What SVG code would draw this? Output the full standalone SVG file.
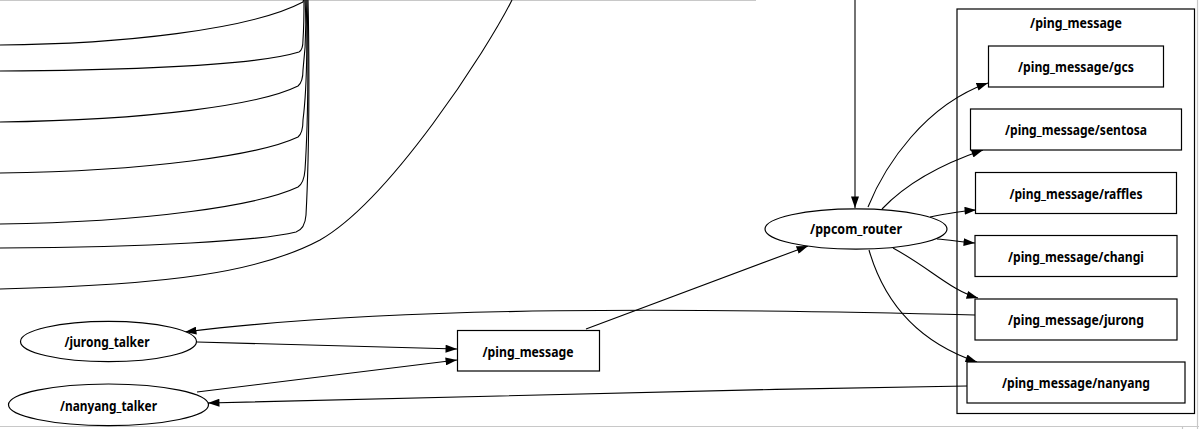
<svg xmlns="http://www.w3.org/2000/svg" width="1199" height="429" viewBox="0 0 1199 429">
<defs>
<style>
.node{fill:#fff;stroke:#000;stroke-width:1.2}
.cluster{fill:none;stroke:#000;stroke-width:1.2}
.edge{fill:none;stroke:#000;stroke-width:1.1}
.frame{fill:none;stroke:#c8c8c8;stroke-width:1.2}
text{font-family:"Noto Sans","DejaVu Sans",sans-serif;font-weight:700;font-size:14px;fill:#000;text-anchor:middle}
</style>
<marker id="ah" viewBox="0 0 10 7" markerUnits="userSpaceOnUse" markerWidth="12" markerHeight="8" refX="10" refY="3.5" orient="auto">
<path d="M0,0 L10,3.5 L0,7 z" fill="#000"/>
</marker>
</defs>
<rect width="1199" height="429" fill="#fff"/>
<g id="frame">
<line class="frame" x1="0" y1="0.5" x2="756" y2="0.5"/>
<line class="frame" x1="1197.5" y1="0" x2="1197.5" y2="429"/>
<line class="frame" x1="0" y1="426.5" x2="1199" y2="426.5"/>
<line class="frame" x1="1182.5" y1="426.5" x2="1182.5" y2="429"/>
</g>
<g id="cluster_ping_message">
<rect class="cluster" x="957" y="9" width="237.5" height="404.5"/>
<text x="1076" y="28" textLength="92" lengthAdjust="spacingAndGlyphs">/ping_message</text>
</g>
<g id="connectors">
<path class="edge" d="M0,45 C120,44 250,30 303,2 L303.5,0"/>
<path class="edge" d="M0,71 C150,70 260,64 299,52 Q303,50 303,40 C304,25 304,10 304,0"/>
<path class="edge" d="M0,122 C150,120 260,105 298,86 Q303,82 303,70 C306,45 306,15 305,0"/>
<path class="edge" d="M0,173 C150,171 260,155 298,137 Q303,133 303,120 C308,80 307,20 306,0"/>
<path class="edge" d="M0,224 C150,222 260,205 298,187 Q304,183 305,170 C309,110 308,30 307,0"/>
<path class="edge" d="M0,248 C150,247 260,241 296,232 Q305,229 306,215 C310,140 309,40 308,0"/>
<path class="edge" d="M0,289 C170,285 260,272 320,240 C390,200 487,50 512,0"/>
<path class="edge" marker-end="url(#ah)" d="M855,0 L855,208"/>
<path class="edge" marker-end="url(#ah)" d="M586,329 L808,246"/>
<path class="edge" marker-end="url(#ah)" d="M197,342 L457,349"/>
<path class="edge" marker-end="url(#ah)" d="M197,392 L457,360"/>
<path class="edge" marker-end="url(#ah)" d="M975,315 C700,308 400,305 185,332"/>
<path class="edge" marker-end="url(#ah)" d="M967,386 C700,390 400,398 208,403"/>
<path class="edge" marker-end="url(#ah)" d="M868,207 C885,165 925,105 988,83"/>
<path class="edge" marker-end="url(#ah)" d="M882,209 C900,190 930,168 983,150"/>
<path class="edge" marker-end="url(#ah)" d="M930,217 C950,213 960,211 976,210"/>
<path class="edge" marker-end="url(#ah)" d="M937,239 C950,240 962,242 975,243"/>
<path class="edge" marker-end="url(#ah)" d="M893,248 C930,268 950,290 978,298"/>
<path class="edge" marker-end="url(#ah)" d="M869,250 C882,295 912,340 977,362"/>
</g>
<g id="node_gcs">
<rect class="node" x="988.5" y="46" width="175" height="41"/>
<text x="1076" y="72" textLength="116" lengthAdjust="spacingAndGlyphs">/ping_message/gcs</text>
</g>
<g id="node_sentosa">
<rect class="node" x="970.5" y="109" width="211" height="41"/>
<text x="1076" y="135" textLength="142" lengthAdjust="spacingAndGlyphs">/ping_message/sentosa</text>
</g>
<g id="node_raffles">
<rect class="node" x="975.5" y="172.5" width="201" height="41"/>
<text x="1076" y="198.5" textLength="133" lengthAdjust="spacingAndGlyphs">/ping_message/raffles</text>
</g>
<g id="node_changi">
<rect class="node" x="975" y="235.5" width="202" height="41"/>
<text x="1076" y="261.5" textLength="136" lengthAdjust="spacingAndGlyphs">/ping_message/changi</text>
</g>
<g id="node_jurong">
<rect class="node" x="975" y="299" width="202" height="41"/>
<text x="1076" y="325" textLength="136" lengthAdjust="spacingAndGlyphs">/ping_message/jurong</text>
</g>
<g id="node_nanyang">
<rect class="node" x="967" y="362" width="218" height="41"/>
<text x="1076" y="388" textLength="148" lengthAdjust="spacingAndGlyphs">/ping_message/nanyang</text>
</g>
<g id="node_ppcom_router">
<ellipse class="node" cx="856" cy="229" rx="91" ry="20.2"/>
<text x="856" y="234" textLength="92" lengthAdjust="spacingAndGlyphs">/ppcom_router</text>
</g>
<g id="node_ping_message">
<rect class="node" x="457.5" y="330.5" width="142" height="40.5"/>
<text x="528" y="356.5" textLength="91" lengthAdjust="spacingAndGlyphs">/ping_message</text>
</g>
<g id="node_jurong_talker">
<ellipse class="node" cx="108.5" cy="341.5" rx="88" ry="20.2"/>
<text x="107" y="347" textLength="85" lengthAdjust="spacingAndGlyphs">/jurong_talker</text>
</g>
<g id="node_nanyang_talker">
<ellipse class="node" cx="108.5" cy="404.8" rx="100" ry="20.8"/>
<text x="108.5" y="411" textLength="97" lengthAdjust="spacingAndGlyphs">/nanyang_talker</text>
</g>
</svg>
